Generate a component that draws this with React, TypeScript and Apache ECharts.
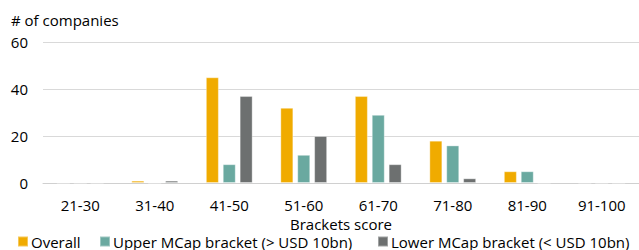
import React, { useEffect, useRef } from "react";
import * as echarts from "echarts";

const categories = ["21-30", "31-40", "41-50", "51-60", "61-70", "71-80", "81-90", "91-100"];
const overall = [0, 1, 45, 32, 37, 18, 5, 0];
const upper = [0, 0, 8, 12, 29, 16, 5, 0];
const lower = [0, 1, 37, 20, 8, 2, 0, 0];
const seriesNames = ["Overall", "Upper MCap bracket (> USD 10bn)", "Lower MCap bracket (< USD 10bn)"];
const colors = ["#F0AB00", "#6AA9A0", "#6D7070"];
const font = "Open Sans";
const fs = 15;
const legendLefts = [17, 99, 377];

export default function App() {
  const ref = useRef<HTMLDivElement>(null);
  useEffect(() => {
    document.body.style.margin = "0";
    const chart = echarts.init(ref.current!, null, { renderer: "svg" });
    const data = [overall, upper, lower];
    chart.setOption({
      animation: false,
      textStyle: { fontFamily: font },
      grid: { left: 43, right: 0, top: 42, bottom: 67 },
      graphic: [
        {
          type: "text",
          left: 11,
          top: 12,
          style: { text: "# of companies", fontFamily: font, fontSize: fs, fill: "#000" },
        },
      ],
      legend: seriesNames.map((n, i) => ({
        left: legendLefts[i],
        bottom: 1,
        padding: [0, 0, 0, 0],
        itemWidth: 10,
        itemHeight: 10,
        icon: "rect",
        textStyle: { fontFamily: font, fontSize: fs, lineHeight: 14, color: "#000", padding: [0, 0, 0, -2] },
        data: [n],
      })),
      xAxis: {
        type: "category",
        data: categories,
        name: "Brackets score",
        nameLocation: "middle",
        nameGap: 34,
        nameTextStyle: { fontFamily: font, fontSize: fs, lineHeight: 14, color: "#000" },
        axisLine: { lineStyle: { color: "#d0d0d0", width: 1 } },
        axisTick: { show: false },
        axisLabel: { fontFamily: font, fontSize: fs, lineHeight: 15, color: "#000", margin: 14 },
      },
      yAxis: {
        type: "value",
        min: 0,
        max: 60,
        interval: 20,
        axisLine: { show: false },
        axisTick: { show: false },
        axisLabel: { fontFamily: font, fontSize: fs, color: "#000", margin: 15 },
        splitLine: { lineStyle: { color: "#d9d9d9", width: 1 } },
      },
      series: seriesNames.map((n, i) => ({
        name: n,
        type: "bar",
        data: data[i],
        barWidth: 13,
        barGap: "30%",
        itemStyle: { color: colors[i], borderColor: "rgba(255,255,255,0.35)", borderWidth: 1 },
      })),
    });
    return () => chart.dispose();
  }, []);
  return <div ref={ref} style={{ width: 639, height: 250 }} />;
}
